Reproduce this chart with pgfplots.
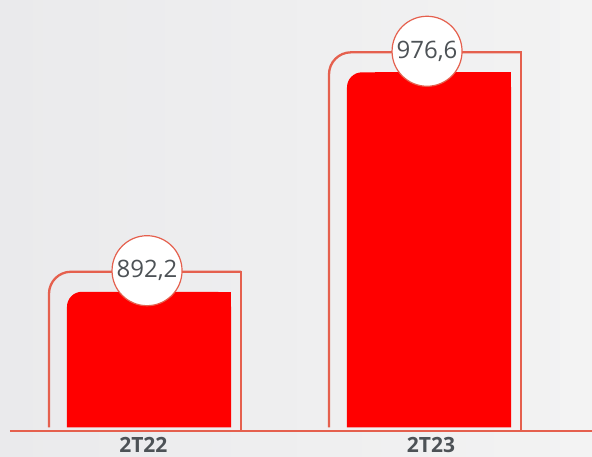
\documentclass[border=0pt]{standalone}
\usepackage{fontspec}
\setmainfont{Open Sans}
\usepackage{pgfplots}
\pgfplotsset{compat=1.18}
\definecolor{barred}{HTML}{FF0000}
\definecolor{edgered}{HTML}{E5604E}
\definecolor{txtgray}{HTML}{4D5256}
\definecolor{bgL}{HTML}{EAEAEC}
\definecolor{bgR}{HTML}{F3F3F3}

\begin{document}
\begin{tikzpicture}
\begin{axis}[
    width=592pt, height=457pt, scale only axis,
    xmin=-0.5321, xmax=1.5821,
    ymin=828.65, ymax=1004.42,
    axis line style={draw=none},
    axis background/.style={left color=bgL, right color=bgR},
    ytick=\empty,
    xtick={-0.02,1.007},
    xticklabels={2T22,2T23},
    major tick length=0pt,
    xticklabel style={anchor=base, yshift=4pt, inner sep=0pt,
        font=\bfseries\fontsize{21}{24}\selectfont, text=txtgray},
    clip=false,
]
% outlines: one rounded corner (top-left), then the right side
\addplot[edgered, line width=2.3pt, mark=none, rounded corners=22pt]
    coordinates {(-0.3571,840) (-0.3571,899.9) (0.3286,899.9)};
\addplot[edgered, line width=2.3pt, mark=none, line cap=rect]
    coordinates {(0.3286,899.9) (0.3286,838.65)};
\addplot[edgered, line width=2.3pt, mark=none, rounded corners=22pt]
    coordinates {(0.6429,840) (0.6429,984.3) (1.3286,984.3)};
\addplot[edgered, line width=2.3pt, mark=none, line cap=rect]
    coordinates {(1.3286,984.3) (1.3286,838.65)};

% bars
\addplot[fill=barred, draw=none, mark=none, rounded corners=15pt]
    coordinates {(-0.2929,840) (-0.2929,892.2) (0.2929,892.2) (0.2929,840)};
\addplot[fill=barred, draw=none, mark=none]
    coordinates {(-0.1929,840) (-0.1929,892.2) (0.2929,892.2) (0.2929,840)};
\addplot[fill=barred, draw=none, mark=none, rounded corners=15pt]
    coordinates {(0.7071,840) (0.7071,976.6) (1.2929,976.6) (1.2929,840)};
\addplot[fill=barred, draw=none, mark=none]
    coordinates {(0.8071,840) (0.8071,976.6) (1.2929,976.6) (1.2929,840)};

% baseline
\addplot[edgered, line width=2.3pt, mark=none]
    coordinates {(-0.4964,838.65) (1.5821,838.65)};

% value bubbles
\addplot[only marks, mark=*, mark size=35pt,
    mark options={fill=white, draw=edgered, line width=1.2pt},
    point meta=explicit symbolic, nodes near coords,
    every node near coord/.style={anchor=center, inner sep=0pt,
        font=\fontsize{24}{28}\selectfont, text=txtgray}]
    coordinates {(-0.007,900.3) [892,2] (0.993,984.7) [976,6]};
\end{axis}
\pgfresetboundingbox
\useasboundingbox (current axis.south west) rectangle (current axis.north east);
\end{tikzpicture}
\end{document}
